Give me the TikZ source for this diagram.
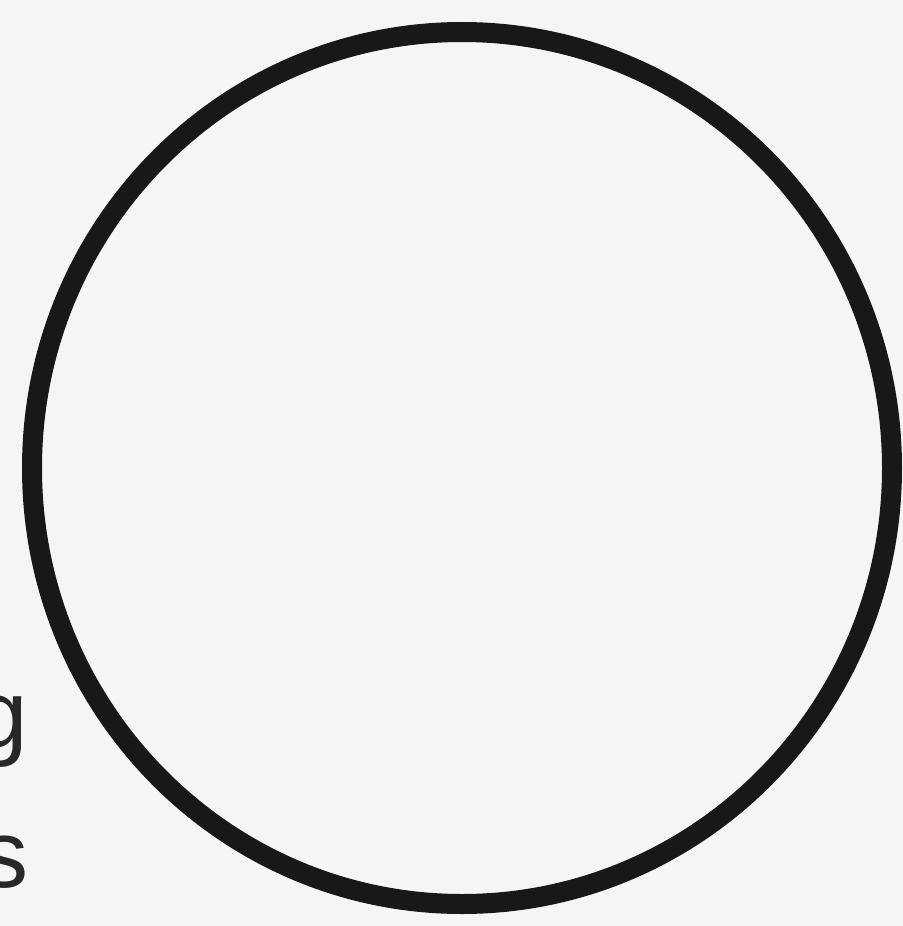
\documentclass[tikz,border=0pt]{standalone}
\usepackage{fontspec}
\setmainfont{Liberation Sans}
\usepackage{xcolor}
\definecolor{paper}{RGB}{244,245,246}
\definecolor{ink}{RGB}{24,24,26}
\definecolor{letter}{RGB}{40,40,44}

\begin{document}
\begin{tikzpicture}[
  x=0.03cm, y=-0.03cm,
  ring/.style={draw=ink, line width=0.6cm},
  cut/.style={anchor=base east, inner sep=0pt, text=letter, font=\fontsize{82}{100}\selectfont}
]
\fill[paper] (0,0) rectangle (903,926);
\useasboundingbox (0,0) rectangle (903,926);
\draw[ring] (462,468) ellipse [x radius=430, y radius=436];
\node[cut] (endg) at (28,747) {g};
\node[cut] (ends) at (29,887) {s};
\end{tikzpicture}
\end{document}
